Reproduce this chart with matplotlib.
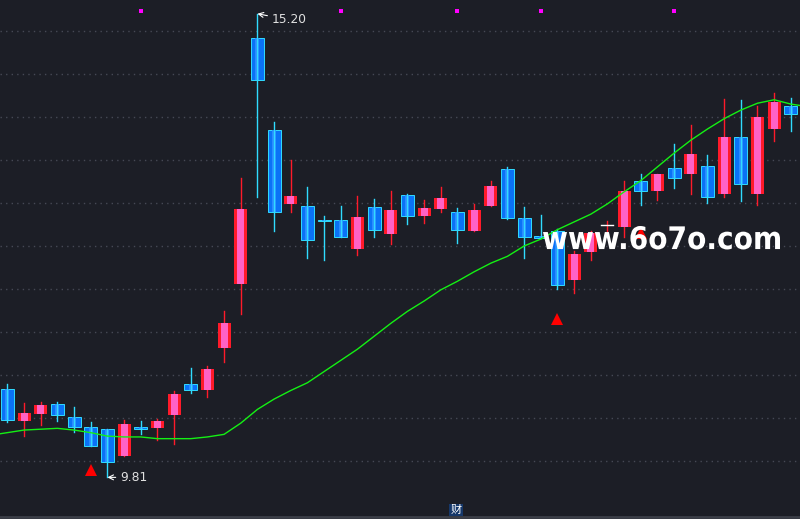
import matplotlib
matplotlib.use("Agg")
import matplotlib.pyplot as plt
from matplotlib.patches import Rectangle, PathPatch
from matplotlib.lines import Line2D
from matplotlib.textpath import TextPath
from matplotlib.font_manager import FontProperties
from matplotlib.transforms import Affine2D
import numpy as np

# daily candles (open, high, low, close)
opens = [10.84, 10.47, 10.55, 10.66, 10.51, 10.40, 10.37, 10.06, 10.40, 10.38,
         10.53, 10.90, 10.83, 11.31, 12.06, 14.92, 13.85, 12.99, 12.97, 12.80,
         12.80, 12.47, 12.95, 12.64, 13.09, 12.85, 12.93, 12.90, 12.68, 12.96,
         13.40, 12.83, 12.62, 12.67, 12.11, 12.43, 12.74, 12.72, 13.26, 13.14,
         13.41, 13.34, 13.43, 13.11, 13.77, 13.10, 13.86, 14.13]
highs = [10.90, 10.67, 10.69, 10.69, 10.63, 10.45, 10.37, 10.48, 10.47, 10.49,
         10.81, 11.08, 11.10, 11.74, 13.29, 15.20, 13.94, 13.50, 13.19, 12.85,
         12.97, 13.08, 13.05, 13.14, 13.11, 13.03, 13.19, 12.94, 12.99, 13.26,
         13.42, 12.95, 12.86, 12.70, 12.44, 12.67, 12.79, 13.26, 13.34, 13.34,
         13.69, 13.91, 13.56, 14.21, 14.20, 14.13, 14.28, 14.22]
lows = [10.45, 10.29, 10.42, 10.47, 10.34, 10.18, 9.81, 10.06, 10.31, 10.24,
        10.20, 10.79, 10.75, 11.15, 11.71, 13.07, 12.67, 12.90, 12.36, 12.34,
        12.61, 12.40, 12.60, 12.52, 12.76, 12.77, 12.90, 12.53, 12.68, 12.96,
        12.81, 12.36, 12.59, 12.00, 11.95, 12.34, 12.65, 12.60, 12.98, 13.04,
        13.17, 13.11, 13.00, 13.07, 13.02, 12.98, 13.72, 13.84]
closes = [10.48, 10.56, 10.65, 10.54, 10.39, 10.18, 9.99, 10.43, 10.37, 10.47,
          10.78, 10.82, 11.07, 11.60, 12.93, 14.43, 12.89, 13.08, 12.57, 12.79,
          12.61, 12.84, 12.69, 12.92, 12.85, 12.94, 13.06, 12.69, 12.92, 13.20,
          12.82, 12.61, 12.59, 12.05, 12.41, 12.65, 12.74, 13.14, 13.14, 13.34,
          13.29, 13.57, 13.07, 13.77, 13.22, 14.00, 14.17, 14.03]

# moving average line, from one bar before the first to one bar after the last
ma_start = -1
ma = [10.30, 10.33, 10.36, 10.37, 10.38, 10.36, 10.33, 10.29, 10.28, 10.28,
      10.26, 10.26, 10.26, 10.28, 10.31, 10.44, 10.60, 10.72, 10.82, 10.91,
      11.04, 11.17, 11.30, 11.45, 11.60, 11.74, 11.86, 11.99, 12.09, 12.20,
      12.30, 12.38, 12.50, 12.58, 12.69, 12.78, 12.87, 12.99, 13.13, 13.26,
      13.42, 13.58, 13.73, 13.86, 13.98, 14.08, 14.16, 14.20, 14.15, 14.12]

# signal markers
buy_bars = [5, 33, 38]
buy_prices = [9.89, 11.65, 12.65]
dot_bars = [8, 20, 27, 32, 40]
dot_price = 15.23

watermark = "www.6o7o.com"

bg = "#1c1e26"
red = "#ff1a2a"
pink = "#ff62c6"
blue = "#0a72f6"
cyan = "#30dcff"

fig = plt.figure(figsize=(8, 5.19), dpi=100)
fig.patch.set_facecolor(bg)
ax = fig.add_axes([0, 0, 1, 1])
ax.set_facecolor(bg)
ax.set_xlim(-0.44, 47.55)
ax.set_ylim(9.326, 15.36)
ax.set_axis_off()

for p in np.arange(10.0, 15.01, 0.5):
    ax.axhline(p, color="#464955", lw=1, ls=(0, (1, 3)), zorder=0)

w = 0.78
for i in range(len(opens)):
    o, h, l, c = opens[i], highs[i], lows[i], closes[i]
    if c > o:
        ax.plot([i, i], [l, h], color=red, lw=1, zorder=2)
        ax.add_patch(Rectangle((i - w / 2, o), w, c - o, facecolor=red, edgecolor="none", zorder=3))
        ax.add_patch(Rectangle((i - 0.21, o), 0.42, c - o, facecolor=pink, edgecolor="none", zorder=4))
    elif c < o:
        ax.add_patch(Rectangle((i - w / 2, c), w, o - c, facecolor=blue, edgecolor=cyan, lw=0.7, zorder=3))
        ax.add_patch(Rectangle((i - 0.12, c), 0.24, o - c, facecolor="#2a8cff", edgecolor="none", zorder=3))
        ax.plot([i, i], [l, h], color=cyan, lw=1, zorder=4)
    else:
        ax.plot([i, i], [l, h], color=red, lw=1, zorder=2)
        ax.plot([i - 0.36, i + 0.36], [o, o], color="white", lw=1, zorder=3)

ax.plot(np.arange(ma_start, ma_start + len(ma)), ma, color="#14f014", lw=1, zorder=5)

ax.plot(buy_bars, buy_prices, ls="none", marker="^", ms=9, color="#ff0000", mew=0, zorder=6)
ax.plot(dot_bars, [dot_price] * len(dot_bars), ls="none", marker="s", ms=2.3, color="#ff00ff", mew=0, zorder=6)

# high / low labels
hi = int(np.argmax(highs))
lo = int(np.argmin(lows))
ax.annotate(f"{highs[hi]:.2f}", xy=(hi, highs[hi]), xytext=(hi + 0.85, highs[hi] - 0.07),
            color="#e0e0e0", fontsize=8.8, ha="left", va="center",
            arrowprops=dict(arrowstyle="->", color="white", lw=0.8, shrinkA=1, shrinkB=0))
ax.annotate(f"{lows[lo]:.2f}", xy=(lo, lows[lo]), xytext=(lo + 0.75, lows[lo]),
            color="#e0e0e0", fontsize=8.8, ha="left", va="center",
            arrowprops=dict(arrowstyle="->", color="white", lw=0.8, shrinkA=1, shrinkB=0))

# watermark, squeezed into its box (pixels, origin bottom-left)
tp = TextPath((0, 0), watermark, size=40, prop=FontProperties(family="DejaVu Sans", weight="bold"))
ext = tp.get_extents()
x0, x1, y0, y1 = 543, 780, 519 - 249.5, 519 - 226
tr = (Affine2D().translate(-ext.x0, -ext.y0)
      .scale((x1 - x0) / ext.width, (y1 - y0) / ext.height)
      .translate(x0, y0))
fig.add_artist(PathPatch(tp, transform=tr, facecolor="white", edgecolor="none", zorder=10))

# bottom strip
fig.add_artist(Line2D([0, 1], [0.004, 0.004], color="#3c3f48", lw=2, transform=fig.transFigure))
fig.text(0.57, 0.0175, "财", color="white", fontsize=8, ha="center", va="center",
         family=["Noto Sans CJK SC", "DejaVu Sans"],
         bbox=dict(boxstyle="square,pad=0.1", facecolor="#16386a", edgecolor="none"))

fig.savefig("out.png", dpi=100, facecolor=bg)
